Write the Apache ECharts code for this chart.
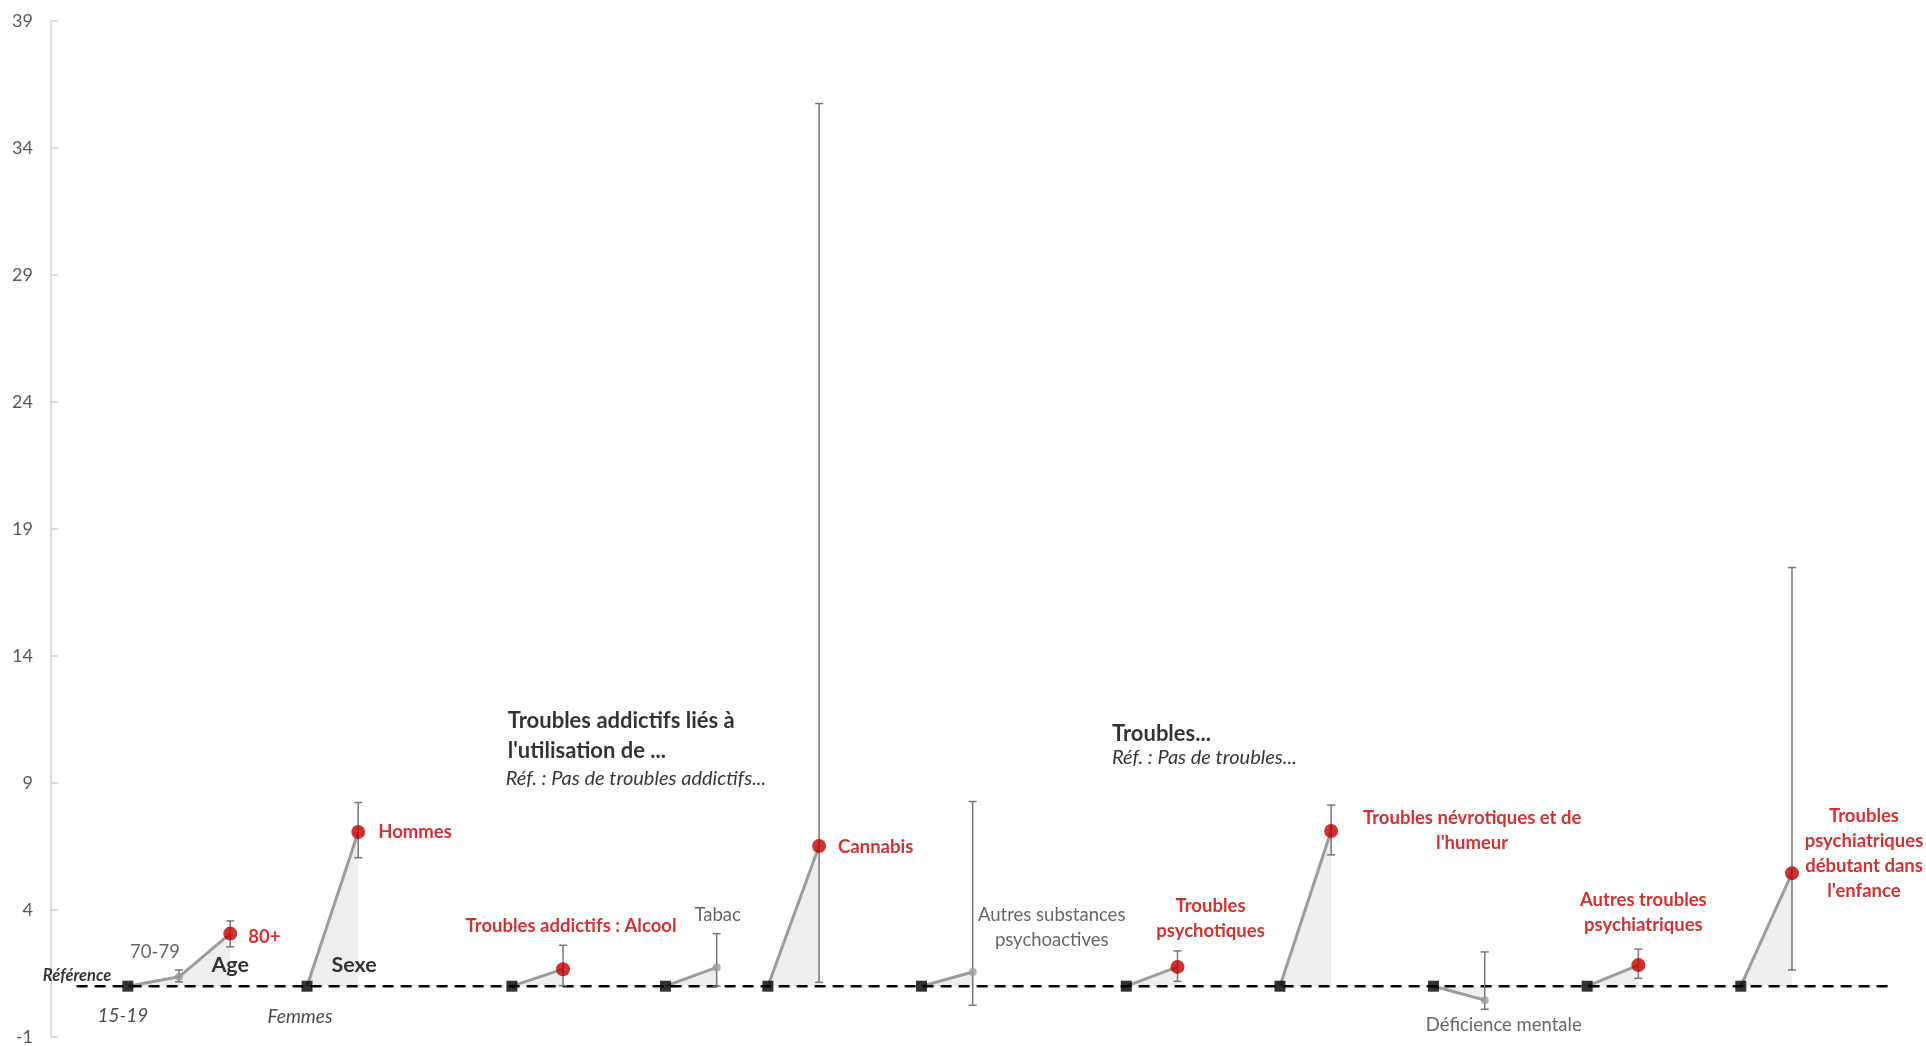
<!DOCTYPE html>
<html><head><meta charset="utf-8">
<script src="https://cdn.jsdelivr.net/npm/echarts@6/dist/echarts.min.js"></script>
<style>html,body{margin:0;padding:0;background:#fff}#c{width:1926px;height:1046px}</style>
</head><body><div id="c"></div>
<script>
// ---------------- DATA ----------------
const refValue = 1;
const refLabels = ['15-19', 'Femmes', '', '', '', '', '', '', '', '', ''];
const refSlots = [0, 3.5, 7.5, 10.5, 12.5, 15.5, 19.5, 22.5, 25.5, 28.5, 31.5];

const itemLabels = ['70-79', '80+', 'Hommes', 'Troubles addictifs : Alcool', 'Tabac', 'Cannabis',
  'Autres substances\npsychoactives', 'Troubles\npsychotiques', 'Troubles névrotiques et de\nl\'humeur',
  'Déficience mentale', 'Autres troubles\npsychiatriques', 'Troubles\npsychiatriques\ndébutant dans\nl\'enfance'];
const itemSlots = [1, 2, 4.5, 8.5, 11.5, 13.5, 16.5, 20.5, 23.5, 26.5, 29.5, 32.5];
const itemGroup = [0, 0, 1, 2, 3, 4, 5, 6, 7, 8, 9, 10];
const oddsRatio = [1.37, 3.07, 7.07, 1.67, 1.74, 6.52, 1.56, 1.76, 7.11, 0.45, 1.83, 5.45];
const ciLow  = [1.17, 2.55, 6.06, 1.02, 1.00, 1.15, 0.25, 1.19, 6.17, 0.09, 1.31, 1.64];
const ciHigh = [1.64, 3.57, 8.23, 2.61, 3.07, 35.75, 8.27, 2.39, 8.13, 2.35, 2.46, 17.48];
const significant = [false, true, true, true, false, true, false, true, true, false, true, true];

const yTicks = [-1, 4, 9, 14, 19, 24, 29, 34, 39];

const annotationTexts = ['Référence', 'Age', 'Sexe', 'Troubles addictifs liés à', 'l\'utilisation de ...',
  'Réf. : Pas de troubles addictifs...', 'Troubles...', 'Réf. : Pas de troubles...'];

// ---------------- LAYOUT / STYLE ----------------
const FONT = 'Lato';
const RED = '#C00000';
const GRAY_TXT = '#404040';
const annotationLayout = [
  {coord: [-0.99, 1.43], style: {fontSize: 16.5, fontWeight: 'bold', fontStyle: 'italic', color: '#000', align: 'center'}},
  {coord: [2.0, 1.83], style: {fontSize: 21.5, fontWeight: 'bold', color: '#000', align: 'center'}},
  {coord: [4.42, 1.83], style: {fontSize: 21.5, fontWeight: 'bold', color: '#000', align: 'center'}},
  {coord: [7.42, 11.43], style: {fontSize: 22, fontWeight: 'bold', color: '#000', align: 'left'}},
  {coord: [7.42, 10.25], style: {fontSize: 22, fontWeight: 'bold', color: '#000', align: 'left'}},
  {coord: [7.38, 9.19], style: {fontSize: 20, fontStyle: 'italic', color: '#000', align: 'left'}},
  {coord: [19.22, 10.92], style: {fontSize: 22, fontWeight: 'bold', color: '#000', align: 'left'}},
  {coord: [19.22, 10.02], style: {fontSize: 20, fontStyle: 'italic', color: '#000', align: 'left'}}
];
const refLabelOffsets = [[-5, 30], [-7, 31]];
const itemLabelLayout = [
  {offset: [-24, -25]},
  {align: 'left', offset: [18, 3]},
  {align: 'left', offset: [20, 0]},
  {offset: [8, -43]},
  {offset: [1, -52]},
  {align: 'left', offset: [19, 1]},
  {offset: [79, -44]},
  {offset: [33, -48]},
  {offset: [141, 0]},
  {offset: [19, 25]},
  {offset: [5, -53]},
  {offset: [72, -20]}
];

// ---------------- BUILD ----------------
const series = [];

// grey connector lines with shaded triangles
refSlots.forEach((rx, g) => {
  const pts = [[rx, refValue]];
  itemSlots.forEach((ix, i) => { if (itemGroup[i] === g) pts.push([ix, oddsRatio[i]]); });
  series.push({
    type: 'line', data: pts, symbol: 'none', silent: true, z: 2,
    lineStyle: {color: '#9C9C9C', width: 3},
    areaStyle: {color: '#EEEEEE', opacity: 1, origin: refValue}
  });
});

// dashed reference line
series.push({
  type: 'line', data: [[-1, refValue], [34.5, refValue]], symbol: 'none', silent: true, z: 3,
  lineStyle: {color: '#000', width: 2.5, type: [11, 7]}
});

// error bars
series.push({
  type: 'custom', z: 4, silent: true,
  data: itemSlots.map((x, i) => [x, ciLow[i], ciHigh[i]]),
  encode: {x: 0, y: [1, 2]},
  renderItem: (params, api) => {
    const x = api.value(0);
    const top = api.coord([x, api.value(2)]);
    const bot = api.coord([x, api.value(1)]);
    const w = 4;
    const st = {stroke: '#767676', lineWidth: 1.5};
    return {type: 'group', children: [
      {type: 'line', shape: {x1: top[0], y1: top[1], x2: bot[0], y2: bot[1]}, style: st},
      {type: 'line', shape: {x1: top[0] - w, y1: top[1], x2: top[0] + w, y2: top[1]}, style: st},
      {type: 'line', shape: {x1: bot[0] - w, y1: bot[1], x2: bot[0] + w, y2: bot[1]}, style: st}
    ]};
  }
});

// reference squares
series.push({
  type: 'scatter', z: 5, symbol: 'rect', symbolSize: 11,
  itemStyle: {color: '#000'},
  data: refSlots.map((x, g) => ({
    value: [x, refValue],
    label: refLabels[g] ? {
      show: true, formatter: refLabels[g], position: 'inside',
      offset: refLabelOffsets[g], fontFamily: FONT, fontSize: 19, fontStyle: 'italic', color: '#1A1A1A'
    } : {show: false}
  }))
});

// estimates
series.push({
  type: 'scatter', z: 6,
  data: itemSlots.map((x, i) => ({
    value: [x, oddsRatio[i]],
    symbolSize: significant[i] ? 14 : 8,
    itemStyle: {color: significant[i] ? RED : '#9C9C9C'},
    label: Object.assign({
      show: true, formatter: itemLabels[i], position: 'inside', align: 'center',
      fontFamily: FONT, fontSize: significant[i] ? 18.5 : 18.5,
      fontWeight: significant[i] ? 'bold' : 'normal',
      color: significant[i] ? RED : GRAY_TXT, lineHeight: 25
    }, itemLabelLayout[i])
  }))
});

// annotations
series.push({
  type: 'scatter', z: 7, symbolSize: 0, silent: true,
  data: annotationTexts.map((t, k) => ({
    value: annotationLayout[k].coord,
    label: Object.assign({show: true, formatter: t, position: 'inside', fontFamily: FONT, verticalAlign: 'middle'},
      annotationLayout[k].style)
  }))
});

const chart = echarts.init(document.getElementById('c'));
chart.setOption({
  animation: false,
  grid: {left: 51, right: 6, top: 21, bottom: 8},
  xAxis: {type: 'value', min: -1.5, max: 35, show: false},
  yAxis: {
    type: 'value', min: -1, max: 39,
    axisLine: {show: true, onZero: false, lineStyle: {color: '#D0D0D0', width: 1.5}},
    axisTick: {show: true, inside: true, length: 7, customValues: yTicks, lineStyle: {color: '#D0D0D0', width: 1.5}},
    axisLabel: {customValues: yTicks, fontFamily: FONT, fontSize: 18, color: '#595959', margin: 18},
    splitLine: {show: false}
  },
  series: series
});
</script>
</body></html>
